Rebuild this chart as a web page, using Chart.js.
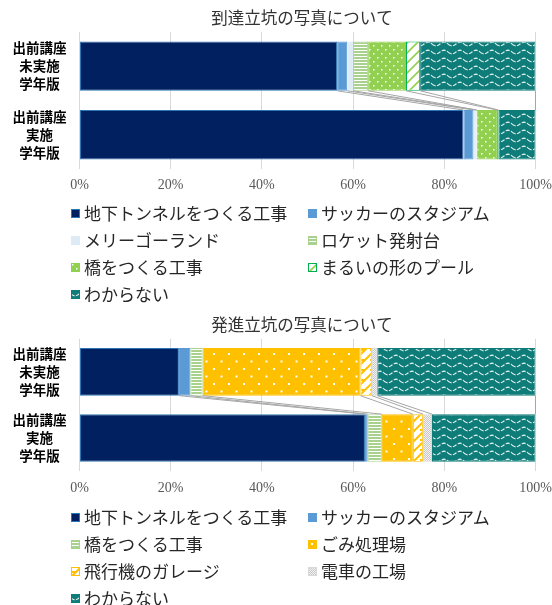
<!DOCTYPE html>
<html>
<head>
<meta charset="utf-8">
<script src="https://cdn.jsdelivr.net/npm/chart.js@4.4.1/dist/chart.umd.min.js"></script>
<style>
  body { margin: 0; background: #fff; }
  #wrap { position: relative; width: 552px; height: 605px; overflow: hidden; }
  .chartBox { position: absolute; left: 0; width: 552px; height: 200px; }
  .legend { position: absolute; left: 71px; display: grid; grid-template-columns: 237px auto;
            font-family: "Noto Sans CJK JP", "Noto Sans", sans-serif; font-size: 17px; color: #262626; }
  .legend div { height: 27px; line-height: 27px; white-space: nowrap; }
  .legend canvas { vertical-align: middle; margin-right: 4px; position: relative; top: -2px; }
</style>
</head>
<body>
<div id="wrap">
  <div class="chartBox" style="top:0"><canvas id="topChart"></canvas></div>
  <div class="legend" id="topLegend" style="top:199px"></div>
  <div class="chartBox" style="top:305px"><canvas id="bottomChart"></canvas></div>
  <div class="legend" id="bottomLegend" style="top:503px"></div>
</div>
<script>
// categories (y axis)
const categoriesTop = [['出前講座', '未実施', '学年版'], ['出前講座', '実施', '学年版']];
const categoriesBottom = [['出前講座', '未実施', '学年版'], ['出前講座', '実施', '学年版']];
const xTicks = [0, 20, 40, 60, 80, 100];

// 到達立坑の写真について (%)
const topTunnel = [56.5, 84.2];
const topSoccer = [2.2, 2.2];
const topMerry = [1.3, 0.7];
const topRocket = [3.3, 0.0];
const topBridge = [8.3, 4.5];
const topPool = [3.1, 0.3];
const topUnknown = [25.3, 8.1];

// 発進立坑の写真について (%)
const bottomTunnel = [21.8, 62.6];
const bottomSoccer = [2.5, 0.6];
const bottomBridge = [2.7, 3.1];
const bottomGarbage = [34.6, 6.8];
const bottomGarage = [2.5, 2.2];
const bottomTrain = [1.2, 2.0];
const bottomUnknown = [34.7, 22.7];

// pattern tiles
function tile(w, h, bg, draw) {
    const c = document.createElement('canvas');
    c.width = w; c.height = h;
    const g = c.getContext('2d');
    g.fillStyle = bg;
    g.fillRect(0, 0, w, h);
    if (draw) draw(g, w, h);
    return c;
}
const tiles = {
    navy: tile(4, 4, '#002060'),
    blue: tile(4, 4, '#5B9BD5'),
    pale: tile(4, 4, '#DDEBF7'),
    stripes: tile(4, 3, '#A9D18E', function(g) { g.fillStyle = '#fff'; g.fillRect(0, 2, 4, 1); }),
    greenDots: tile(8, 8, '#92D050', function(g) {
        g.fillStyle = '#fff'; g.fillRect(1, 1, 1.5, 1.5); g.fillRect(5, 5, 1.5, 1.5);
    }),
    greenDiag: tile(10, 10, '#fff', function(g) {
        g.strokeStyle = '#92D050'; g.lineWidth = 1.6;
        g.beginPath(); g.moveTo(0, 10); g.lineTo(10, 0); g.moveTo(-5, 5); g.lineTo(5, -5);
        g.moveTo(5, 15); g.lineTo(15, 5); g.stroke();
    }),
    yellowDots: tile(15, 15, '#FFC000', function(g) {
        g.fillStyle = '#fff'; g.fillRect(3, 3, 2, 2); g.fillRect(10.5, 10.5, 2, 2);
    }),
    yellowDiag: tile(10, 10, '#fff', function(g) {
        g.strokeStyle = '#FFC000'; g.lineWidth = 2;
        g.beginPath(); g.moveTo(0, 10); g.lineTo(10, 0); g.moveTo(-5, 5); g.lineTo(5, -5);
        g.moveTo(5, 15); g.lineTo(15, 5); g.moveTo(0, 5); g.lineTo(5, 5); g.stroke();
    }),
    checker: tile(2, 2, '#F2F2F2', function(g) {
        g.fillStyle = '#C8C8C8'; g.fillRect(0, 0, 1, 1); g.fillRect(1, 1, 1, 1);
    }),
    wave: tile(16, 8, '#0E7C78', function(g) {
        g.strokeStyle = 'rgba(255,255,255,0.85)'; g.lineWidth = 1.3;
        g.setLineDash([4, 1.5]);
        g.beginPath();
        for (let i = 0; i <= 16; i++) {
            const y = 4 + 1.8 * Math.sin(i / 16 * Math.PI * 2);
            if (i === 0) g.moveTo(i, y); else g.lineTo(i, y);
        }
        g.stroke();
    })
};
function pat(name) {
    return document.createElement('canvas').getContext('2d').createPattern(tiles[name], 'repeat');
}

function series(label, data, tileName, border) {
    return { label: label, data: data, tileName: tileName, backgroundColor: pat(tileName),
             borderColor: border, borderWidth: 1, borderSkipped: false,
             barPercentage: 0.9, categoryPercentage: 0.8 };
}

const topSets = [
    series('地下トンネルをつくる工事', topTunnel, 'navy', '#2E75B6'),
    series('サッカーのスタジアム', topSoccer, 'blue', '#5B9BD5'),
    series('メリーゴーランド', topMerry, 'pale', '#DDEBF7'),
    series('ロケット発射台', topRocket, 'stripes', '#A9D18E'),
    series('橋をつくる工事', topBridge, 'greenDots', '#92D050'),
    series('まるいの形のプール', topPool, 'greenDiag', '#00B050'),
    series('わからない', topUnknown, 'wave', '#0E7C78')
];
const bottomSets = [
    series('地下トンネルをつくる工事', bottomTunnel, 'navy', '#2E75B6'),
    series('サッカーのスタジアム', bottomSoccer, 'blue', '#5B9BD5'),
    series('橋をつくる工事', bottomBridge, 'stripes', '#A9D18E'),
    series('ごみ処理場', bottomGarbage, 'yellowDots', '#FFC000'),
    series('飛行機のガレージ', bottomGarage, 'yellowDiag', '#FFC000'),
    series('電車の工場', bottomTrain, 'checker', '#D9D9D9'),
    series('わからない', bottomUnknown, 'wave', '#0E7C78')
];

// Excel-style series lines between the two bars
const seriesLines = {
    id: 'seriesLines',
    afterDatasetsDraw(chart) {
        const ctx = chart.ctx;
        ctx.save();
        ctx.strokeStyle = '#A6A6A6';
        ctx.lineWidth = 1;
        chart.data.datasets.forEach(function(ds, i) {
            const meta = chart.getDatasetMeta(i);
            const a = meta.data[0], b = meta.data[1];
            if (!a || !b) return;
            ctx.beginPath();
            ctx.moveTo(a.x, a.y + a.height / 2);
            ctx.lineTo(b.x, b.y - b.height / 2);
            ctx.stroke();
        });
        ctx.restore();
    }
};

// the original title sits a little right of the canvas centre
const titleShift = {
    id: 'titleShift',
    afterLayout(chart) {
        const t = chart.titleBlock;
        if (t) t.left = 2 * 302 - t.right;
    }
};

function makeChart(id, title, categories, datasets, titleTop, tickPad, padBottom) {
    return new Chart(document.getElementById(id), {
        type: 'bar',
        data: { labels: categories, datasets: datasets },
        plugins: [seriesLines, titleShift],
        options: {
            indexAxis: 'y',
            responsive: true,
            maintainAspectRatio: false,
            animation: false,
            layout: { padding: { left: 0, right: 16.5, top: 0, bottom: padBottom } },
            plugins: {
                legend: { display: false },
                tooltip: { enabled: false },
                title: {
                    display: true, text: title, color: '#333',
                    font: { family: '"Noto Sans CJK JP", sans-serif', size: 16.5, weight: 'normal' },
                    padding: { top: titleTop, bottom: 4 }
                }
            },
            scales: {
                x: {
                    stacked: true, min: 0, max: 100,
                    afterBuildTicks: function(axis) { axis.ticks = xTicks.map(function(v) { return { value: v }; }); },
                    afterFit: function(axis) {
                        axis.paddingLeft = 0; axis.paddingRight = 0;
                        axis.height = tickPad + 17;
                    },
                    ticks: { padding: tickPad, color: '#595959', maxRotation: 0,
                             font: { family: '"Liberation Serif", serif', size: 14 },
                             callback: function(v) { return v + '%'; } },
                    grid: { color: '#D9D9D9', drawTicks: false },
                    border: { display: false }
                },
                y: {
                    stacked: true,
                    afterFit: function(axis) { axis.width = 79.5; axis.paddingTop = 0; axis.paddingBottom = 0; },
                    ticks: { crossAlign: 'center', padding: 5, color: '#000', autoSkip: false,
                             font: { family: '"Noto Sans CJK JP", sans-serif', size: 13.5, weight: 'bold', lineHeight: 1.33 } },
                    grid: { display: false },
                    border: { display: false }
                }
            }
        }
    });
}

makeChart('topChart', '到達立坑の写真について', categoriesTop, topSets, 8, 8, 6);
makeChart('bottomChart', '発進立坑の写真について', categoriesBottom, bottomSets, 10, 9, 8);

function buildLegend(elId, datasets) {
    const box = document.getElementById(elId);
    datasets.forEach(function(ds) {
        const item = document.createElement('div');
        const sw = document.createElement('canvas');
        sw.width = 9; sw.height = 9;
        const g = sw.getContext('2d');
        g.fillStyle = g.createPattern(tiles[ds.tileName], 'repeat');
        g.fillRect(0, 0, 9, 9);
        g.strokeStyle = ds.borderColor;
        g.strokeRect(0.5, 0.5, 8, 8);
        item.appendChild(sw);
        item.appendChild(document.createTextNode(ds.label));
        box.appendChild(item);
    });
}
buildLegend('topLegend', topSets);
buildLegend('bottomLegend', bottomSets);
</script>
</body>
</html>
